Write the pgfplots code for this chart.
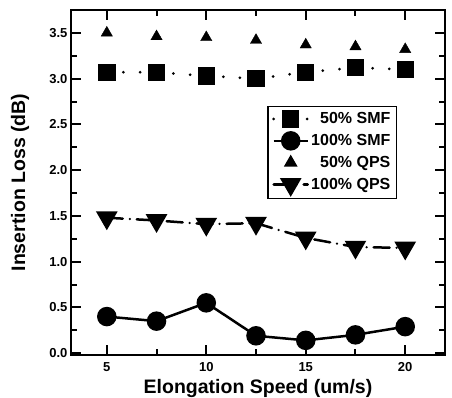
\documentclass[border=0pt]{standalone}
\usepackage{pgfplots}
\pgfplotsset{compat=1.18}
\usepackage{fontspec}
\setmainfont{Liberation Sans}
\begin{document}
\begin{tikzpicture}
\begin{axis}[
  scale only axis, width=374pt, height=345pt,
  xmin=3.2, xmax=22, ymin=-0.02, ymax=3.75,
  xtick={5,10,15,20}, minor xtick={7.5,12.5,17.5},
  ytick={0,0.5,...,3.5}, minor ytick={0.25,0.75,...,3.75},
  yticklabel style={/pgf/number format/.cd,fixed,fixed zerofill,precision=1},
  /pgf/number format/assume math mode=true,
  tick label style={font=\fontsize{13}{14}\selectfont\bfseries},
  xticklabel style={yshift=-4pt},
  label style={font=\fontsize{19.5}{22}\selectfont\bfseries},
  xlabel={Elongation Speed (um/s)}, ylabel={Insertion Loss (dB)},
  xlabel style={at={(axis description cs:0.5,-0.096)}, anchor=center},
  ylabel style={at={(axis description cs:-0.136,0.5)}, anchor=center},
  axis line style={line width=2.5pt},
  tick align=inside, major tick length=10pt, minor tick length=6pt,
  every tick/.style={line width=2pt, black},
  legend style={at={(0.872,0.722)}, anchor=north east, draw=black, line width=1.5pt,
    font=\fontsize{16}{18}\selectfont\bfseries, row sep=5pt, inner sep=4pt},
  legend cell align=right,
  legend image code/.code={\draw[mark repeat=2,mark phase=2] plot coordinates {(0pt,0pt)(17pt,0pt)(34pt,0pt)};},
]
\addplot[black, line width=3pt, line cap=round, dash pattern=on 0pt off 16.67pt, mark=square*, mark size=7.2pt, mark options={solid}]
  coordinates {(5,3.07)(7.5,3.07)(10,3.03)(12.5,3.00)(15,3.07)(17.5,3.12)(20,3.10)};
\addlegendentry{50\% SMF}
\addplot[black, line width=2.5pt, mark=*, mark size=8.5pt]
  coordinates {(5,0.40)(7.5,0.35)(10,0.55)(12.5,0.19)(15,0.14)(17.5,0.20)(20,0.29)};
\addlegendentry{100\% SMF}
\addplot[black, only marks, mark=triangle*, mark size=6.5pt]
  coordinates {(5,3.50)(7.5,3.46)(10,3.45)(12.5,3.42)(15,3.37)(17.5,3.35)(20,3.32)};
\addlegendentry{50\% QPS}
\addplot[black, line width=2.5pt, line cap=round, dash pattern=on 16pt off 7pt on 0pt off 7pt, mark=triangle*, mark size=10pt, mark options={solid, rotate=180}]
  coordinates {(5,1.48)(7.5,1.45)(10,1.41)(12.5,1.42)(15,1.26)(17.5,1.16)(20,1.15)};
\addlegendentry{100\% QPS}
\end{axis}
\pgfresetboundingbox
\path ([shift={(-71pt,-42pt)}]current axis.south west) rectangle ([shift={(7pt,10pt)}]current axis.north east);
\end{tikzpicture}
\end{document}
